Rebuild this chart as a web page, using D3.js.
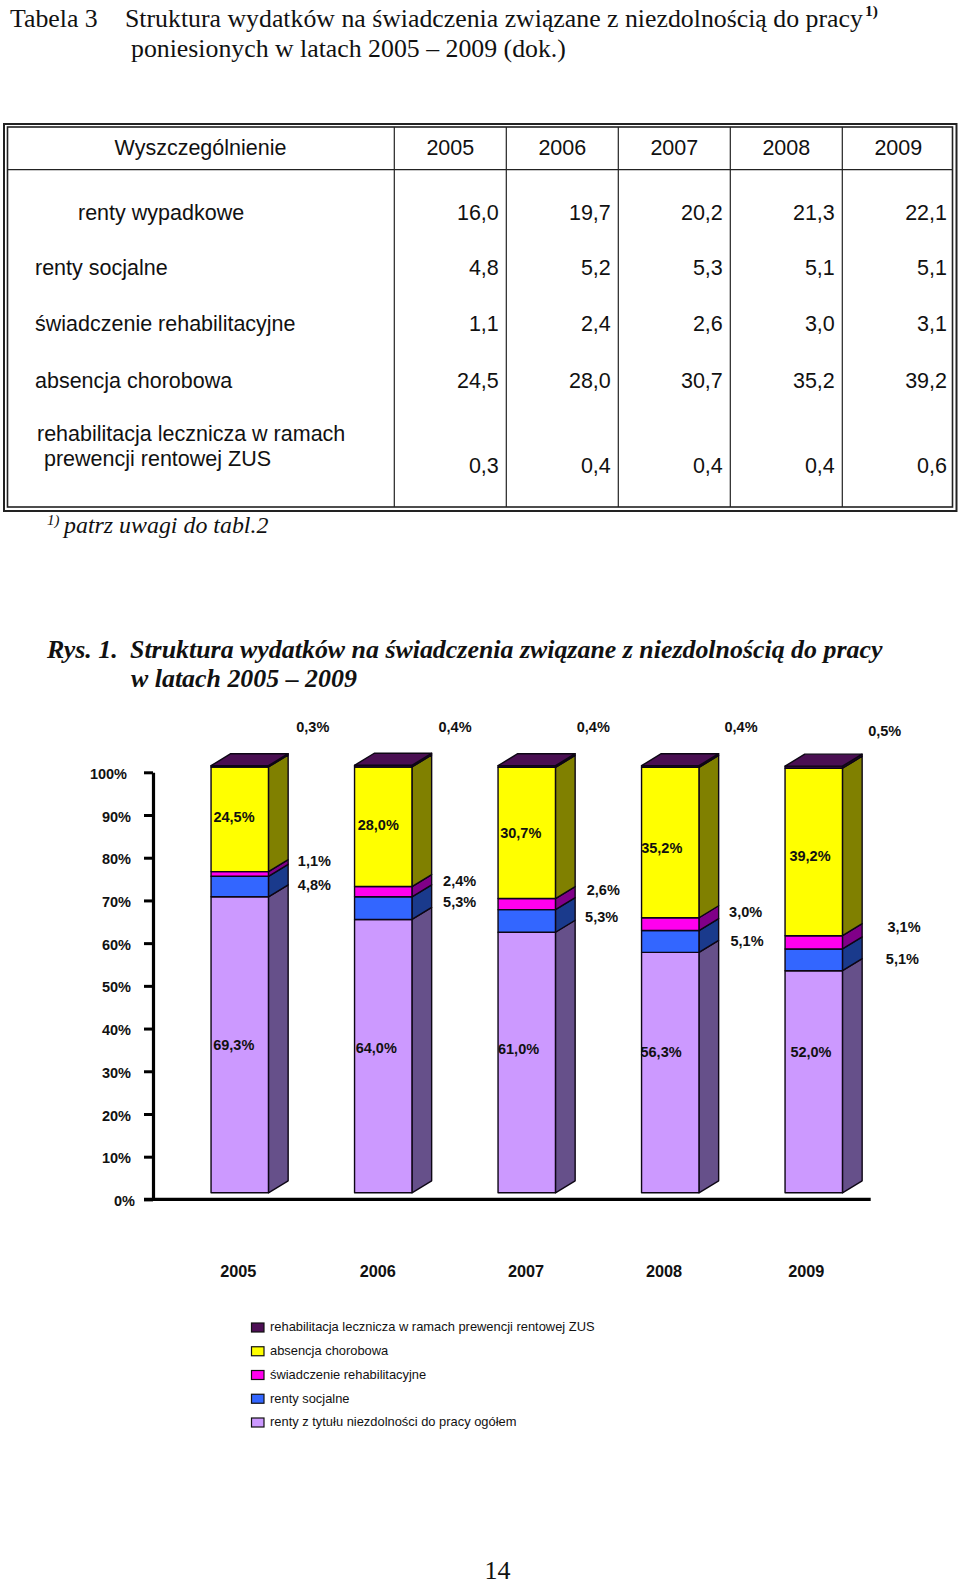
<!DOCTYPE html>
<html lang="pl"><head><meta charset="utf-8">
<style>html,body{margin:0;padding:0;background:#fff}svg{display:block}
.serif{font-family:"Liberation Serif","Times New Roman",serif;fill:#111}
.sans{font-family:"Liberation Sans",Arial,sans-serif;fill:#111}</style>
<script src="https://cdn.jsdelivr.net/npm/d3@7/dist/d3.min.js"></script></head><body>
<script>
// ---------- data ----------
const years = ["2005","2006","2007","2008","2009"];
const tableHeader = "Wyszczególnienie";
const tableLabels = ["renty wypadkowe","renty socjalne","świadczenie rehabilitacyjne","absencja chorobowa"];
const tableRentyWypadkowe = ["16,0","19,7","20,2","21,3","22,1"];
const tableRentySocjalne = ["4,8","5,2","5,3","5,1","5,1"];
const tableSwiadczenie = ["1,1","2,4","2,6","3,0","3,1"];
const tableAbsencja = ["24,5","28,0","30,7","35,2","39,2"];
const tablePrewencja = ["0,3","0,4","0,4","0,4","0,6"];

const rentyOgolem = [69.3,64.0,61.0,56.3,52.0];
const rentySocjalne = [4.8,5.3,5.3,5.1,5.1];
const swiadczenie = [1.1,2.4,2.6,3.0,3.1];
const absencja = [24.5,28.0,30.7,35.2,39.2];
const prewencja = [0.3,0.4,0.4,0.4,0.5];
const axisTicks = [0,10,20,30,40,50,60,70,80,90,100];
const seriesNames = ["renty z tytułu niezdolności do pracy ogółem","renty socjalne","świadczenie rehabilitacyjne","absencja chorobowa","rehabilitacja lecznicza w ramach prewencji rentowej ZUS"];

// ---------- layout (label nudges, not data) ----------
const labelDx = [[-6,-7,-8.2,-9.2,-2.8],[74.6,76.4,74.9,76.8,88.6],[74.6,76.4,76.5,75.4,90.3],[-5.75,-5,-6,-8.5,-3.75],[73,71.75,66.5,70.75,70.95]];
const labelDy = [[0.2,-8.1,-13.5,-20.8,-29.9],[-1.3,-6.1,-4.5,-1,-0.6],[-13,-10.7,-14.4,-12,-15.2],[-2.9,-2.3,-0.5,5.3,3.6],[-39.3,-39.1,-39.6,-39.6,-36.2]];
const yearDx = [-1.5,-5.5,-0.75,-6.25,-7.5];
const front = ["#CC99FF","#3366FF","#FF00EE","#FFFF00","#4D0F55"];
const side  = ["#66508A","#1A3A8C","#800088","#808000","#2E0833"];
const topCap = "#4A0F52";
const depthX = 19.7, depthY = -12, barShift = -6.6;

const svg = d3.select("body").append("svg").attr("width",960).attr("height",1585);

// ---------- headings ----------
function txt(cls,x,y,size,s,opt={}){
  const t = svg.append("text").attr("class",cls).attr("x",x).attr("y",y).attr("font-size",size).text(s);
  if(opt.bold) t.attr("font-weight","bold");
  if(opt.italic) t.attr("font-style","italic");
  if(opt.anchor) t.attr("text-anchor",opt.anchor);
  return t;
}
txt("serif",10,27,25.8,"Tabela 3");
txt("serif",125,27,25.8,"Struktura wydatków na świadczenia związane z niezdolnością do pracy");
txt("serif",865,16,15.5,"1)",{bold:true});
txt("serif",131,56.5,25.8,"poniesionych w latach 2005 – 2009 (dok.)");
txt("serif",47,525,15,"1)",{italic:true});
txt("serif",64,533,23.9,"patrz uwagi do tabl.2",{italic:true});
txt("serif",47,658,25.9,"Rys. 1.",{bold:true,italic:true});
txt("serif",130,658,25.9,"Struktura wydatków na świadczenia związane z niezdolnością do pracy",{bold:true,italic:true});
txt("serif",131,687,25.9,"w latach 2005 – 2009",{bold:true,italic:true});
txt("serif",497.5,1579,26,"14",{anchor:"middle"});

// ---------- table ----------
const colLines = [394.3,506.3,618.3,730.3,842.3];
const tbl = svg.append("g").attr("fill","none").attr("stroke","#222");
tbl.append("rect").attr("x",4).attr("y",124).attr("width",952.5).attr("height",387).attr("stroke-width",2);
tbl.append("rect").attr("x",7.5).attr("y",127).attr("width",945).attr("height",380).attr("stroke-width",1.6);
tbl.selectAll("line.c").data(colLines).join("line").attr("x1",d=>d).attr("x2",d=>d).attr("y1",127).attr("y2",507).attr("stroke-width",1.2);
tbl.append("line").attr("x1",7.5).attr("x2",952.5).attr("y1",169.7).attr("y2",169.7).attr("stroke-width",1.2);
const tFont = 21.5;
txt("sans",200.5,155,tFont,tableHeader,{anchor:"middle"});
years.forEach((y,i)=>txt("sans",colLines[i]+56,155,tFont,y,{anchor:"middle"}));
const rowY = [220,275.3,330.7,388.3,473];
[tableRentyWypadkowe,tableRentySocjalne,tableSwiadczenie,tableAbsencja,tablePrewencja].forEach((row,r)=>{
  row.forEach((v,i)=>txt("sans",i<4?colLines[i+1]-7.5:947,rowY[r],tFont,v,{anchor:"end"}));
});
[78,35,35,35].forEach((x,i)=>txt("sans",x,rowY[i],tFont,tableLabels[i]));
txt("sans",37,441,tFont,"rehabilitacja lecznicza w ramach");
txt("sans",44,466,tFont,"prewencji rentowej ZUS");

// ---------- chart ----------
const x = d3.scaleBand().domain(years).range([168,885.5]).paddingInner(0.6).paddingOuter(0.3);
const yAxis = d3.scaleLinear().domain([0,100]).range([1199.4,772.3]);
const yBar = v => yAxis(v)+barShift;
const all = [rentyOgolem,rentySocjalne,swiadczenie,absencja,prewencja];
const stacked = d3.stack().keys(d3.range(5)).value((d,k)=>all[k][d])(d3.range(5));

const axis = svg.append("g").attr("transform","translate(153,0)")
  .call(d3.axisLeft(yAxis).tickValues(axisTicks).tickSize(9).tickSizeOuter(0).tickFormat(d=>d+"%"));
axis.select(".domain").attr("stroke","#000").attr("stroke-width",3.2);
axis.selectAll(".tick line").attr("stroke","#000").attr("stroke-width",3);
axis.selectAll(".tick text").attr("class","sans").attr("font-family","Liberation Sans").attr("font-weight","bold").attr("font-size",14.5)
  .attr("fill","#111").attr("x",d=>d===100?-26:d===0?-18:-22).attr("dy","0.42em");
svg.append("line").attr("x1",144).attr("x2",870.7).attr("y1",yAxis(0)).attr("y2",yAxis(0)).attr("stroke","#000").attr("stroke-width",3.2);

const bars = svg.append("g").attr("stroke","#0d0614").attr("stroke-width",1.4).attr("stroke-linejoin","round");
stacked.forEach((layer,k)=>{
  const g = bars.append("g");
  g.selectAll("path.side").data(layer).join("path").attr("fill",side[k]).attr("d",(d,i)=>{
    const r=x(years[i])+x.bandwidth(), t=yBar(d[1]), b=yBar(d[0]);
    return `M${r},${b}L${r+depthX},${b+depthY}L${r+depthX},${t+depthY}L${r},${t}Z`;
  });
  g.selectAll("rect").data(layer).join("rect").attr("fill",front[k])
    .attr("x",(d,i)=>x(years[i])).attr("width",x.bandwidth())
    .attr("y",d=>yBar(d[1])).attr("height",d=>yBar(d[0])-yBar(d[1]));
  if(k===4) g.selectAll("path.top").data(layer).join("path").attr("fill",topCap).attr("d",(d,i)=>{
    const l=x(years[i]), r=l+x.bandwidth(), t=yBar(d[1]);
    return `M${l},${t}L${l+depthX},${t+depthY}L${r+depthX},${t+depthY}L${r},${t}Z`;
  });
});

// value labels
const fmt = v => v.toFixed(1).replace(".",",")+"%";
stacked.forEach((layer,k)=>{
  svg.append("g").selectAll("text").data(layer).join("text").attr("class","sans")
    .attr("font-weight","bold").attr("font-size",14.5).attr("text-anchor","middle")
    .attr("x",(d,i)=>x(years[i])+x.bandwidth()/2+labelDx[k][i])
    .attr("y",(d,i)=>yBar((d[0]+d[1])/2)+labelDy[k][i]+5.2)
    .text((d,i)=>fmt(all[k][i]));
});

// year labels
svg.append("g").selectAll("text").data(years).join("text").attr("class","sans")
  .attr("font-weight","bold").attr("font-size",16.3).attr("text-anchor","middle")
  .attr("x",(d,i)=>x(d)+x.bandwidth()/2+yearDx[i]).attr("y",1277).text(d=>d);

// legend
const legendOrder = [4,3,2,1,0];
const legendY = d3.scalePoint().domain(legendOrder).range([1327.5,1422.5]);
const leg = svg.append("g").selectAll("g").data(legendOrder).join("g").attr("transform",d=>`translate(0,${legendY(d)})`);
leg.append("rect").attr("x",251.5).attr("y",-4.5).attr("width",12.5).attr("height",9).attr("fill",d=>front[d]).attr("stroke","#111").attr("stroke-width",1.2);
leg.append("text").attr("class","sans").attr("x",270).attr("y",3.8).attr("font-size",12.9).text(d=>seriesNames[d]);
</script></body></html>
